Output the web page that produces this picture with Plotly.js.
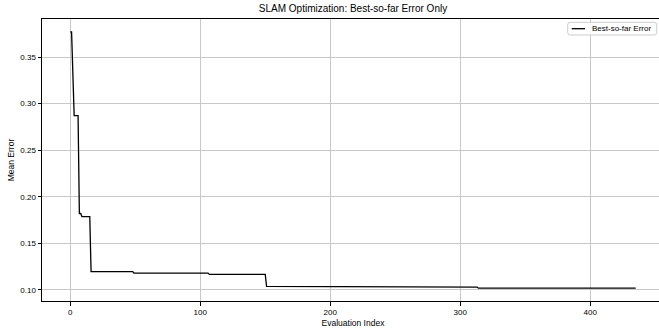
<!DOCTYPE html>
<html>
<head>
<meta charset="utf-8">
<script src="https://cdn.plot.ly/plotly-3.0.1.min.js"></script>
<style>
html, body { margin: 0; padding: 0; overflow: hidden; background: #fff; }
#chart { width: 664px; height: 329px; }
</style>
</head>
<body>
<div id="chart"></div>
<script>
// Vertices of the best-so-far curve (evaluation index, mean error)
const evalIndex = [0, 1, 3, 6, 7, 8, 9, 15, 16, 48, 49, 106, 107, 150, 151, 261, 262, 313, 314, 435];
const bestError = [0.377, 0.377, 0.287, 0.287, 0.182, 0.182, 0.1787, 0.1787, 0.1197, 0.1197, 0.1181, 0.1181, 0.1167, 0.1167, 0.1037, 0.1037, 0.1030, 0.1030, 0.1019, 0.1019];
const xTicks = [0, 100, 200, 300, 400];
const yTicks = [0.10, 0.15, 0.20, 0.25, 0.30, 0.35];
const yTickLabels = ['0.10', '0.15', '0.20', '0.25', '0.30', '0.35'];
const seriesName = 'Best-so-far Error';

const FONT = 'Liberation Sans, Arial, sans-serif';

const trace = {
  x: evalIndex,
  y: bestError,
  type: 'scatter',
  mode: 'lines',
  name: seriesName,
  showlegend: false,
  line: { color: '#000000', width: 1.3 }
};

// matplotlib-style legend box drawn as shapes (compact)
const bx0 = 0.8452, bx1 = 0.9883, by0 = 0.9433, by1 = 0.9883, r = 0.004, ry = 0.009;
const boxPath = `M ${bx0 + r} ${by1} L ${bx1 - r} ${by1} Q ${bx1} ${by1} ${bx1} ${by1 - ry} ` +
  `L ${bx1} ${by0 + ry} Q ${bx1} ${by0} ${bx1 - r} ${by0} L ${bx0 + r} ${by0} ` +
  `Q ${bx0} ${by0} ${bx0} ${by0 + ry} L ${bx0} ${by1 - ry} Q ${bx0} ${by1} ${bx0 + r} ${by1} Z`;

const layout = {
  width: 664,
  height: 329,
  margin: { l: 42, r: 0, t: 19, b: 28 },
  paper_bgcolor: '#ffffff',
  plot_bgcolor: '#ffffff',
  font: { family: FONT, size: 8, color: '#000000' },
  title: {
    text: 'SLAM Optimization: Best-so-far Error Only',
    font: { family: FONT, size: 10, color: '#000000' },
    x: 0.5, xref: 'paper', xanchor: 'center',
    y: 0.975, yref: 'container', yanchor: 'middle'
  },
  showlegend: false,
  shapes: [
    { type: 'path', xref: 'paper', yref: 'paper', path: boxPath,
      fillcolor: 'rgba(255,255,255,0.85)', line: { color: '#cccccc', width: 1 } },
    { type: 'line', xref: 'paper', yref: 'paper', x0: 0.8516, x1: 0.8730, y0: 0.9656, y1: 0.9656,
      line: { color: '#000000', width: 1.3 } }
  ],
  annotations: [
    { xref: 'paper', yref: 'paper', x: 0.8805, y: 0.9656, xanchor: 'left', yanchor: 'middle',
      text: seriesName, showarrow: false, font: { family: FONT, size: 8, color: '#000000' } }
  ],
  xaxis: {
    range: [-21.75, 456.75],
    tickvals: xTicks,
    ticktext: xTicks.map(String),
    showgrid: true, gridcolor: '#c8c8c8', gridwidth: 1,
    zeroline: false,
    showline: true, linecolor: '#000000', linewidth: 1, mirror: true,
    ticks: 'outside', ticklen: 3.5, tickwidth: 1, tickcolor: '#000000',
    tickfont: { family: FONT, size: 8, color: '#000000' },
    title: { text: 'Evaluation Index', font: { family: FONT, size: 8.5, color: '#000000' }, standoff: 3 }
  },
  yaxis: {
    range: [0.0881, 0.3908],
    tickvals: yTicks,
    ticktext: yTickLabels,
    showgrid: true, gridcolor: '#c8c8c8', gridwidth: 1,
    zeroline: false,
    showline: true, linecolor: '#000000', linewidth: 1, mirror: true,
    ticks: 'outside', ticklen: 3.5, tickwidth: 1, tickcolor: '#000000',
    tickfont: { family: FONT, size: 8, color: '#000000' },
    title: { text: 'Mean Error', font: { family: FONT, size: 8.5, color: '#000000' }, standoff: 4 }
  }
};

Plotly.newPlot('chart', [trace], layout, { displayModeBar: false, staticPlot: true });
</script>
</body>
</html>
